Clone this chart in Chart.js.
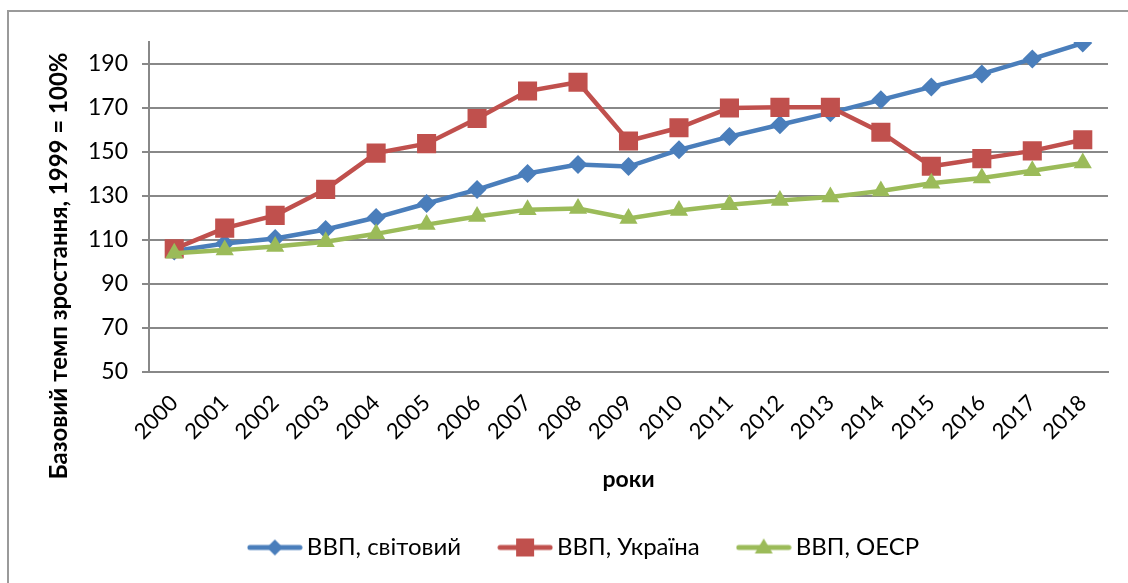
<!DOCTYPE html>
<html>
<head>
<meta charset="utf-8">
<style>
html,body{margin:0;padding:0;background:#fff;}
#wrap{position:relative;width:1128px;height:583px;}
</style>
<script src="https://cdn.jsdelivr.net/npm/chart.js@4.4.1/dist/chart.umd.min.js"></script>
</head>
<body>
<div id="wrap"><canvas id="c" width="1128" height="583"></canvas></div>
<script>
const years = ['2000','2001','2002','2003','2004','2005','2006','2007','2008','2009','2010','2011','2012','2013','2014','2015','2016','2017','2018'];
const gdpWorld   = [105, 108.4, 110.7, 114.8, 120.2, 126.6, 132.9, 140.2, 144.3, 143.4, 151, 157, 162.4, 167.8, 173.7, 179.6, 185.5, 192.3, 199.5];
const gdpUkraine = [106, 115.4, 121.2, 133, 149.5, 153.8, 165.2, 177.7, 181.7, 155, 161, 170, 170.3, 170.3, 159, 143.5, 147, 150.5, 155.6];
const gdpOECD    = [104, 105.5, 107, 109.2, 112.8, 117, 120.7, 123.8, 124.3, 119.8, 123.4, 126, 128, 129.5, 132.3, 135.8, 138.2, 141.5, 145];
const seriesNames = ['ВВП, світовий', 'ВВП, Україна', 'ВВП, ОЕСР'];
const yTicks = [50, 70, 90, 110, 130, 150, 170, 190];
const yTitle = 'Базовий темп зростання, 1999 = 100%';
const xTitle = 'роки';

const COLORS = ['#4A7EBB', '#C0504D', '#9BBB59'];
const STYLES = ['rectRot', 'rect', 'triangle'];
const RADII = [9.5, 13.5, 10.5];
const FONT = 'Lato';

function legendImage(i) {
  const cv = document.createElement('canvas');
  cv.width = 56; cv.height = 22;
  const g = cv.getContext('2d');
  g.strokeStyle = COLORS[i]; g.lineWidth = 5; g.lineCap = 'round';
  g.beginPath(); g.moveTo(3, 11); g.lineTo(53, 11); g.stroke();
  g.fillStyle = COLORS[i];
  g.beginPath();
  if (i === 0) { g.moveTo(28-8, 11); g.lineTo(28, 3); g.lineTo(36, 11); g.lineTo(28, 19); g.closePath(); }
  else if (i === 1) { g.rect(28-9, 2, 18, 18); }
  else { g.moveTo(28, 2); g.lineTo(37, 17); g.lineTo(19, 17); g.closePath(); }
  g.fill();
  return cv;
}
const legendImgs = [0,1,2].map(legendImage);

const framePlugin = {
  id: 'frame',
  beforeDraw(chart) {
    const ctx = chart.ctx;
    ctx.save();
    ctx.strokeStyle = '#9a9a9a'; ctx.lineWidth = 2;
    ctx.beginPath(); ctx.moveTo(8, 583); ctx.lineTo(8, 11); ctx.lineTo(1128, 11); ctx.stroke();
    ctx.restore();
  }
};
const yTitlePlugin = {
  id: 'yTitle',
  afterDraw(chart) {
    const ctx = chart.ctx;
    ctx.save();
    ctx.translate(59, 266);
    ctx.rotate(-Math.PI / 2);
    ctx.font = 'bold 24px ' + FONT;
    ctx.fillStyle = '#000';
    ctx.textAlign = 'center'; ctx.textBaseline = 'middle';
    ctx.fillText(yTitle, 0, 0);
    ctx.restore();
  }
};

const mkSet = (i, data, order) => ({
  label: seriesNames[i], data,
  borderColor: COLORS[i], backgroundColor: COLORS[i],
  borderWidth: 4.5, pointStyle: STYLES[i], pointRadius: RADII[i], pointHoverRadius: RADII[i],
  pointBorderWidth: 0, pointBackgroundColor: COLORS[i], tension: 0, order
});

new Chart(document.getElementById('c'), {
  type: 'line',
  data: {
    labels: years,
    datasets: [mkSet(0, gdpWorld, 3), mkSet(1, gdpUkraine, 2), mkSet(2, gdpOECD, 1)]
  },
  options: {
    responsive: false, animation: false, devicePixelRatio: 1,
    layout: { padding: { top: 42, right: 20, bottom: 13.5, left: 66 } },
    plugins: {
      tooltip: { enabled: false },
      legend: {
        position: 'bottom',
        labels: {
          font: { family: FONT, size: 24 }, color: '#000',
          usePointStyle: true, pointStyleWidth: 40, padding: 44,
          generateLabels(chart) {
            return chart.data.datasets.map((ds, i) => ({
              text: ds.label, pointStyle: legendImgs[i], fillStyle: COLORS[i],
              strokeStyle: COLORS[i], lineWidth: 0, hidden: false, datasetIndex: i, fontColor: '#000'
            }));
          }
        }
      }
    },
    scales: {
      x: {
        offset: true,
        grid: { display: false },
        border: { display: true, color: '#888', width: 2 },
        ticks: { autoSkip: false, minRotation: 45, maxRotation: 45, padding: 10, color: '#000', font: { family: FONT, size: 22 } },
        title: { display: true, text: xTitle, color: '#000', font: { family: FONT, size: 23, weight: 'bold' }, padding: { top: 0, bottom: -2 } },
        afterFit(s) { s.height = 119.5; }
      },
      y: {
        min: 50, max: 200,
        afterBuildTicks(s) { s.ticks = yTicks.map(v => ({ value: v })); },
        grid: { color: '#888', lineWidth: 2, tickLength: 7, drawTicks: true },
        border: { display: true, color: '#888', width: 2 },
        ticks: { color: '#000', padding: 14, font: { family: FONT, size: 23 } },
        afterFit(s) { s.width = 83; }
      }
    }
  },
  plugins: [framePlugin, yTitlePlugin]
});
</script>
</body>
</html>
